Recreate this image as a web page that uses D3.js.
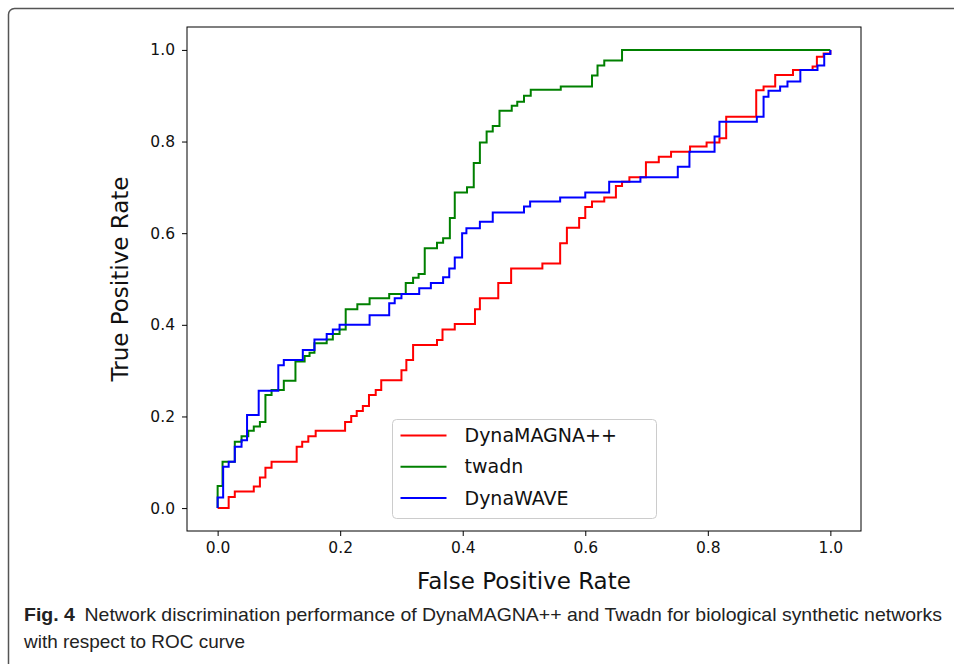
<!DOCTYPE html>
<html>
<head>
<meta charset="utf-8">
<script src="https://cdn.jsdelivr.net/npm/d3@7"></script>
<style>
  body { margin: 0; background: #fff; }
  svg { display: block; }
</style>
</head>
<body>
<div id="chart-area"></div>
<script>
// ROC curves (corner points, step after)
const magnaFpr = [0, .018, .028, .059, .069, .078, .088, .129, .138, .148, .160, .208, .218, .227, .237, .247, .258, .267, .300, .308, .319, .358, .367, .387, .420, .428, .458, .479, .530, .559, .570, .590, .600, .611, .631, .650, .660, .672, .699, .720, .740, .771, .798, .819, .830, .879, .891, .910, .939, .971, .978, .989, 1.0];
const magnaTpr = [0, .024, .036, .047, .067, .088, .101, .134, .145, .157, .169, .188, .201, .212, .223, .247, .258, .279, .301, .323, .356, .367, .390, .402, .434, .458, .491, .523, .534, .578, .612, .633, .657, .669, .678, .703, .712, .722, .755, .767, .778, .789, .798, .807, .854, .912, .920, .945, .956, .964, .985, .992, 1.0];

const twadnFpr = [0, 0, .008, .028, .039, .050, .059, .069, .078, .088, .108, .127, .142, .150, .158, .178, .188, .199, .209, .228, .248, .280, .307, .319, .328, .338, .358, .368, .379, .387, .407, .418, .428, .439, .449, .460, .480, .489, .500, .511, .560, .611, .620, .631, .660, 1.0];
const twadnTpr = [0, .048, .101, .145, .157, .169, .178, .188, .247, .258, .278, .320, .332, .339, .360, .368, .380, .390, .434, .445, .458, .467, .491, .503, .511, .567, .579, .589, .633, .689, .700, .753, .798, .822, .834, .867, .878, .887, .900, .913, .920, .944, .966, .977, 1.0, 1.0];

const waveFpr = [0, 0, .009, .018, .028, .039, .048, .067, .099, .108, .139, .158, .178, .188, .199, .248, .280, .289, .300, .329, .348, .368, .378, .387, .399, .406, .428, .449, .500, .510, .559, .600, .639, .690, .751, .770, .811, .819, .880, .891, .899, .918, .930, .951, .979, .990, 1.0];
const waveTpr = [0, .023, .090, .101, .134, .148, .203, .256, .312, .323, .345, .368, .380, .390, .400, .421, .447, .458, .467, .480, .491, .504, .523, .547, .600, .611, .625, .645, .658, .669, .678, .689, .712, .722, .745, .778, .811, .843, .854, .898, .911, .920, .931, .956, .966, .991, 1.0];

const seriesNames = ["DynaMAGNA++", "twadn", "DynaWAVE"];
const seriesColors = ["#ff0000", "#008000", "#0000ff"];
const tickValues = [0, 0.2, 0.4, 0.6, 0.8, 1.0];

const W = 954, H = 664;
const margin = { top: 27, right: 93, bottom: 133, left: 187 };
const width = W - margin.left - margin.right;
const height = H - margin.top - margin.bottom;

const svg = d3.select('#chart-area')
  .append('svg')
  .attr('width', W)
  .attr('height', H);

// outer figure frame (rounded top-left corner, runs off page)
svg.append('rect')
  .attr('x', 8.5).attr('y', 8.5)
  .attr('width', 1000).attr('height', 800)
  .attr('rx', 6)
  .attr('fill', 'none')
  .attr('stroke', '#555')
  .attr('stroke-width', 1.5);

const g = svg.append('g')
  .attr('transform', `translate(${margin.left}, ${margin.top})`);

const x = d3.scaleLinear().domain([-0.05, 1.05]).range([0, width]);
const y = d3.scaleLinear().domain([-0.05, 1.05]).range([height, 0]);

const fmt = d3.format('.1f');

const xAxis = g.append('g')
  .attr('transform', `translate(0, ${height})`)
  .call(d3.axisBottom(x).tickValues(tickValues).tickFormat(fmt).tickSizeOuter(0).tickSize(5).tickPadding(6));
const yAxis = g.append('g')
  .call(d3.axisLeft(y).tickValues(tickValues).tickFormat(fmt).tickSizeOuter(0).tickSize(5).tickPadding(7));

[xAxis, yAxis].forEach(a => {
  a.select('.domain').remove();
  a.selectAll('line').attr('stroke', '#000').attr('stroke-width', 1);
  a.selectAll('text')
    .attr('font-family', 'DejaVu Sans')
    .attr('font-size', 15.5)
    .attr('fill', '#111');
});

// plot frame
g.append('rect')
  .attr('x', 0).attr('y', 0)
  .attr('width', width).attr('height', height)
  .attr('fill', 'none')
  .attr('stroke', '#000')
  .attr('stroke-width', 1);

const series = [
  d3.zip(magnaFpr, magnaTpr),
  d3.zip(twadnFpr, twadnTpr),
  d3.zip(waveFpr, waveTpr)
];

const line = d3.line()
  .x(d => x(d[0]))
  .y(d => y(d[1]))
  .curve(d3.curveStepAfter);

g.selectAll('.roc')
  .data(series)
  .enter()
  .append('path')
  .attr('class', 'roc')
  .attr('d', line)
  .attr('fill', 'none')
  .attr('stroke', (d, i) => seriesColors[i])
  .attr('stroke-width', 2);

// legend
const legend = g.append('g')
  .attr('transform', `translate(${392.5 - margin.left}, ${419.5 - margin.top})`);
legend.append('rect')
  .attr('width', 264).attr('height', 99)
  .attr('rx', 4)
  .attr('fill', '#fff')
  .attr('fill-opacity', 0.85)
  .attr('stroke', '#ccc')
  .attr('stroke-width', 1);

const items = legend.selectAll('.item')
  .data(seriesNames)
  .enter()
  .append('g')
  .attr('transform', (d, i) => `translate(0, ${16 + i * 31.3})`);
items.append('line')
  .attr('x1', 8).attr('x2', 54)
  .attr('y1', 0).attr('y2', 0)
  .attr('stroke', (d, i) => seriesColors[i])
  .attr('stroke-width', 2);
items.append('text')
  .attr('x', 72).attr('y', 0)
  .attr('dy', '0.35em')
  .attr('font-family', 'DejaVu Sans')
  .attr('font-size', 19)
  .attr('fill', '#111')
  .text(d => d);

// axis titles
svg.append('text')
  .attr('x', margin.left + x(0.5))
  .attr('y', 589)
  .attr('text-anchor', 'middle')
  .attr('font-family', 'DejaVu Sans')
  .attr('font-size', 23)
  .attr('fill', '#111')
  .text('False Positive Rate');

svg.append('text')
  .attr('transform', `translate(128, ${margin.top + y(0.5)}) rotate(-90)`)
  .attr('text-anchor', 'middle')
  .attr('font-family', 'DejaVu Sans')
  .attr('font-size', 23)
  .attr('fill', '#111')
  .text('True Positive Rate');

// caption
const cap = svg.append('text')
  .attr('x', 24).attr('y', 621)
  .attr('font-family', 'Liberation Sans Narrow, Liberation Sans, sans-serif')
  .attr('font-size', 19)
  .attr('fill', '#222')
  .attr('textLength', 918)
  .attr('lengthAdjust', 'spacingAndGlyphs');
cap.append('tspan').attr('font-weight', 'bold').text('Fig. 4');
cap.append('tspan')
  .text('\u2002Network discrimination performance of DynaMAGNA++ and Twadn for biological synthetic networks');

svg.append('text')
  .attr('x', 24).attr('y', 648)
  .attr('font-family', 'Liberation Sans Narrow, Liberation Sans, sans-serif')
  .attr('font-size', 19)
  .attr('fill', '#222')
  .attr('textLength', 221)
  .attr('lengthAdjust', 'spacingAndGlyphs')
  .text('with respect to ROC curve');
</script>
</body>
</html>
